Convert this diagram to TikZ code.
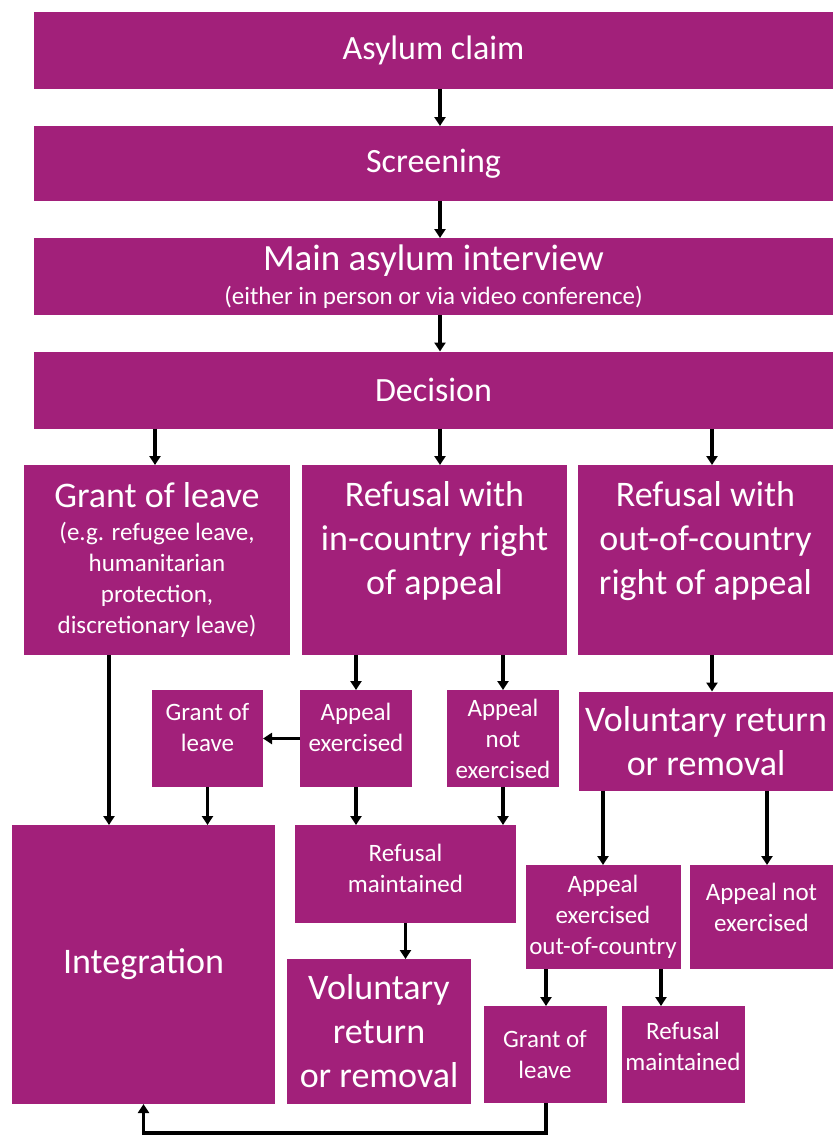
\documentclass[tikz,border=0pt]{standalone}
\usepackage{fontspec}
\setmainfont{Carlito}
\usetikzlibrary{arrows.meta,calc}
\definecolor{pur}{RGB}{162,32,122}
\newcommand\myBig{\fontsize{36}{44}\selectfont}
\newcommand\myTop{\fontsize{34}{41}\selectfont}
\newcommand\myMain{\fontsize{37}{44}\selectfont}
\newcommand\mySmall{\fontsize{25}{31}\selectfont}
\begin{document}
\begin{tikzpicture}[x=1pt,y=-1pt,
  box/.style={fill=pur, inner sep=0pt, outer sep=0pt, text=white, align=center},
  txt/.style={text=white, align=center, inner sep=0pt},
  arr/.style={draw=black, line width=3.3pt, -{Triangle[width=11pt,length=9pt]}},
]
\fill[white] (0,0) rectangle (833,1135);
\useasboundingbox (0,0) rectangle (833,1135);

% top chain
\node[box, minimum width=799pt, minimum height=77pt, font=\myTop] (claim) at (433.5,50.5) {Asylum claim};
\node[box, minimum width=799pt, minimum height=75pt, font=\myTop] (screen) at (433.5,163.5) {Screening};
\node[box, minimum width=799pt, minimum height=77pt, font=\mySmall] (interview) at (433.5,276.5) {{\myMain Main asylum interview}\\[3pt](either in person or via video conference)};
\node[box, minimum width=799pt, minimum height=77pt, font=\myTop] (decision) at (433.5,390) {Decision};

% second row
\node[box, minimum width=266pt, minimum height=190pt, font=\mySmall] (gl) at (157,560) {{\myBig Grant of leave}\\[2pt](e.g. refugee leave,\\humanitarian\\protection,\\discretionary leave)};
\node[box, minimum width=265pt, minimum height=190pt] (ric) at (434.5,560) {};
\node[txt, font=\myBig] (ric-t) at ([yshift=19pt]ric.center) {Refusal with\\in-country right\\of appeal};
\node[box, minimum width=255pt, minimum height=190pt] (roc) at (705.5,560) {};
\node[txt, font=\myBig] (roc-t) at ([yshift=19pt]roc.center) {Refusal with\\out-of-country\\right of appeal};

% third row
\node[box, minimum width=111pt, minimum height=97pt] (gls) at (207.5,738.5) {};
\node[txt, font=\mySmall] (gls-t) at ([yshift=11pt]gls.center) {Grant of\\leave};
\node[box, minimum width=112pt, minimum height=97pt] (ae) at (356,738.5) {};
\node[txt, font=\mySmall] (ae-t) at ([yshift=11pt]ae.center) {Appeal\\exercised};
\node[box, minimum width=112pt, minimum height=97pt, font=\mySmall] (ane) at (503,738.5) {Appeal\\not\\exercised};
\node[box, minimum width=254pt, minimum height=99pt, font=\myBig] (vr1) at (706,741) {Voluntary return\\or removal};

% lower part
\node[box, minimum width=263pt, minimum height=279pt, font=\myBig] (integ) at (143.5,964.5) {Integration};
\node[box, minimum width=221pt, minimum height=98pt] (rm1) at (405.5,874) {};
\node[txt, font=\mySmall] (rm1-t) at ([yshift=6pt]rm1.center) {Refusal\\maintained};
\node[box, minimum width=184pt, minimum height=145pt, font=\myBig] (vr2) at (379,1031.5) {Voluntary\\return\\or removal};
\node[box, minimum width=155pt, minimum height=104pt, font=\mySmall] (aeo) at (603,917) {Appeal\\exercised\\out-of-country};
\node[box, minimum width=143pt, minimum height=104pt] (anr) at (761.5,917) {};
\node[txt, font=\mySmall] (anr-t) at ([yshift=10pt]anr.center) {Appeal not\\exercised};
\node[box, minimum width=123pt, minimum height=97pt, font=\mySmall] (glb) at (545,1054.5) {Grant of\\leave};
\node[box, minimum width=123pt, minimum height=97pt] (rmb) at (683,1054.5) {};
\node[txt, font=\mySmall] (rmb-t) at ([yshift=8pt]rmb.center) {Refusal\\maintained};

% x positions of connectors
\coordinate (xa) at (440,0);
\coordinate (xb) at (155,0);
\coordinate (xc) at (712,0);
\coordinate (xd) at (109,0);
\coordinate (xe) at (767,0);
\coordinate (xf) at (661,0);
\coordinate (xg) at (546,0);
\coordinate (bot) at (0,1133);

\draw[arr] (claim.south -| xa) -- (screen.north -| xa);
\draw[arr] (screen.south -| xa) -- (interview.north -| xa);
\draw[arr] (interview.south -| xa) -- (decision.north -| xa);
\draw[arr] (decision.south -| xb) -- (gl.north -| xb);
\draw[arr] (decision.south -| xa) -- (ric.north -| xa);
\draw[arr] (decision.south -| xc) -- (roc.north -| xc);
\draw[arr] (ric.south -| ae) -- (ae.north);
\draw[arr] (ric.south -| ane) -- (ane.north);
\draw[arr] (roc.south -| xc) -- (vr1.north -| xc);
\draw[arr] (ae.west) -- (gls.east);
\draw[arr] (gl.south -| xd) -- (integ.north -| xd);
\draw[arr] (gls.south) -- (integ.north -| gls);
\draw[arr] (ae.south) -- (rm1.north -| ae);
\draw[arr] (ane.south) -- (rm1.north -| ane);
\draw[arr] (rm1.south) -- (vr2.north -| rm1);
\draw[arr] (vr1.south -| aeo) -- (aeo.north);
\draw[arr] (vr1.south -| xe) -- (anr.north -| xe);
\draw[arr] (aeo.south -| xg) -- (glb.north -| xg);
\draw[arr] (aeo.south -| xf) -- (rmb.north -| xf);
\draw[arr] (glb.south -| xg) -- (bot -| xg) -| (integ.south);
\end{tikzpicture}
\end{document}
